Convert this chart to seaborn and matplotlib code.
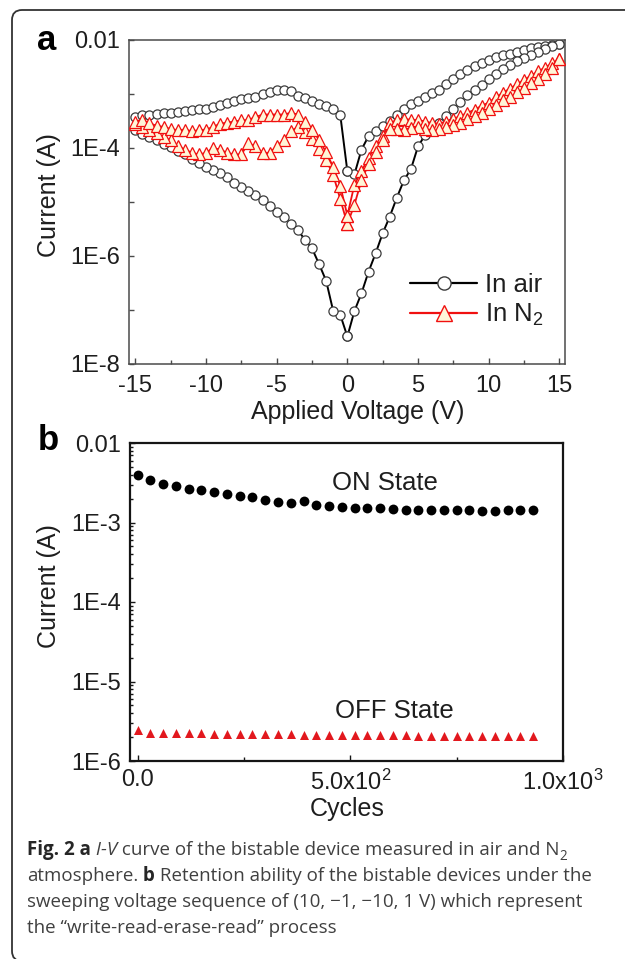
import numpy as np
import pandas as pd
import matplotlib
matplotlib.use("Agg")
import matplotlib.pyplot as plt
import seaborn as sns
from matplotlib.lines import Line2D
from matplotlib.patches import FancyBboxPatch
from matplotlib.transforms import IdentityTransform
from matplotlib.ticker import (FixedLocator, LogLocator, MultipleLocator,
                               NullFormatter)

# ---------------- (a) I-V sweeps, 0.5 V steps ----------------
# currents are stored as log10(I / A)
V_STEPS = [0.0, 0.5, 1.0, 1.5, 2.0, 2.5, 3.0, 3.5, 4.0, 4.5, 5.0, 5.5, 6.0,
           6.5, 7.0, 7.5, 8.0, 8.5, 9.0, 9.5, 10.0, 10.5, 11.0, 11.5, 12.0,
           12.5, 13.0, 13.5, 14.0, 14.5, 15.0]

# in air: 0 -> +15 V
AIR_POS_UP = [-4.43, -4.49, -4.03, -3.78, -3.69, -3.60, -3.50, -3.38, -3.27,
              -3.18, -3.13, -3.06, -2.99, -2.92, -2.81, -2.72, -2.63, -2.56,
              -2.49, -2.43, -2.37, -2.32, -2.28, -2.25, -2.22, -2.18, -2.15,
              -2.13, -2.11, -2.09, -2.08]
# in air: +15 -> 0 V (listed by rising |V|)
AIR_POS_DOWN = [-7.49, -7.02, -6.69, -6.29, -5.95, -5.58, -5.27, -4.92, -4.60,
                -4.39, -3.97, -3.76, -3.66, -3.53, -3.41, -3.27, -3.14, -3.02,
                -2.92, -2.83, -2.73, -2.63, -2.54, -2.46, -2.39, -2.33, -2.27,
                -2.22, -2.17, -2.12, -2.08]
# in air: 0 -> -15 V
AIR_NEG_UP = [-7.49, -7.09, -7.02, -6.46, -6.15, -5.86, -5.70, -5.52, -5.40,
              -5.27, -5.18, -5.07, -4.97, -4.87, -4.79, -4.72, -4.65, -4.54,
              -4.46, -4.40, -4.35, -4.27, -4.20, -4.12, -4.06, -3.98, -3.92,
              -3.86, -3.80, -3.74, -3.66]
# in air: -15 -> 0 V (listed by rising |V|)
AIR_NEG_DOWN = [-4.43, -3.39, -3.27, -3.22, -3.18, -3.13, -3.08, -3.04, -2.95,
                -2.93, -2.93, -2.96, -3.00, -3.05, -3.08, -3.10, -3.13, -3.16,
                -3.21, -3.24, -3.27, -3.28, -3.30, -3.32, -3.33, -3.35, -3.36,
                -3.37, -3.38, -3.39, -3.42]

# in N2
N2_POS_UP = [-5.25, -4.68, -4.43, -4.18, -3.97, -3.78, -3.54, -3.48, -3.46,
             -3.48, -3.48, -3.51, -3.54, -3.55, -3.51, -3.46, -3.41, -3.35,
             -3.29, -3.22, -3.16, -3.06, -2.98, -2.90, -2.82, -2.74, -2.66,
             -2.58, -2.51, -2.43, -2.35]
N2_POS_DOWN = [-5.41, -5.05, -4.60, -4.30, -4.08, -3.85, -3.64, -3.65, -3.66,
               -3.63, -3.61, -3.65, -3.66, -3.65, -3.61, -3.57, -3.53, -3.47,
               -3.41, -3.35, -3.28, -3.20, -3.12, -3.05, -2.97, -2.89, -2.80,
               -2.72, -2.63, -2.52, -2.35]
N2_NEG_UP = [-5.41, -4.95, -4.50, -4.22, -4.02, -3.83, -3.70, -3.62, -3.68,
             -3.85, -3.97, -4.09, -4.09, -3.97, -3.91, -4.12, -4.12, -4.09,
             -4.03, -4.00, -4.09, -4.12, -4.09, -4.03, -3.96, -3.86, -3.80,
             -3.73, -3.67, -3.61, -3.56]
N2_NEG_DOWN = [-5.25, -4.70, -4.35, -4.08, -3.85, -3.66, -3.51, -3.38, -3.35,
               -3.38, -3.38, -3.38, -3.38, -3.43, -3.48, -3.49, -3.51, -3.53,
               -3.55, -3.61, -3.66, -3.67, -3.69, -3.66, -3.67, -3.65, -3.61,
               -3.59, -3.54, -3.48, -3.51]

A_YTICKS = [1e-8, 1e-7, 1e-6, 1e-5, 1e-4, 1e-3, 1e-2]
A_YLABELS = ["1E-8", "", "1E-6", "", "1E-4", "", "0.01"]

# ---------------- (b) retention ----------------
CYCLES = [0, 30, 60, 90, 120, 150, 180, 210, 240, 270, 300, 330, 360, 390,
          420, 450, 480, 510, 540, 570, 600, 630, 660, 690, 720, 750, 780,
          810, 840, 870, 900, 930]
ON_STATE = [4.00e-3, 3.46e-3, 3.05e-3, 2.85e-3, 2.67e-3, 2.54e-3, 2.42e-3,
            2.31e-3, 2.18e-3, 2.07e-3, 1.94e-3, 1.81e-3, 1.76e-3, 1.85e-3,
            1.67e-3, 1.63e-3, 1.57e-3, 1.52e-3, 1.52e-3, 1.51e-3, 1.48e-3,
            1.45e-3, 1.44e-3, 1.44e-3, 1.42e-3, 1.42e-3, 1.42e-3, 1.41e-3,
            1.38e-3, 1.42e-3, 1.44e-3, 1.45e-3]
OFF_STATE = [2.45e-6, 2.27e-6, 2.25e-6, 2.24e-6, 2.23e-6, 2.22e-6, 2.21e-6,
             2.20e-6, 2.19e-6, 2.18e-6, 2.17e-6, 2.17e-6, 2.16e-6, 2.15e-6,
             2.14e-6, 2.14e-6, 2.13e-6, 2.12e-6, 2.12e-6, 2.11e-6, 2.10e-6,
             2.10e-6, 2.09e-6, 2.09e-6, 2.08e-6, 2.08e-6, 2.07e-6, 2.07e-6,
             2.06e-6, 2.06e-6, 2.05e-6, 2.05e-6]
B_YTICKS = [1e-6, 1e-5, 1e-4, 1e-3, 1e-2]
B_YLABELS = ["1E-6", "1E-5", "1E-4", "1E-3", "0.01"]
B_XTICKS = [0, 500, 1000]
B_XLABELS = ["0.0", r"5.0x10$^{2}$", r"1.0x10$^{3}$"]


def sweep(pos_up, pos_down, neg_up, neg_down):
    """Full loop 0 -> +15 -> 0 -> -15 -> 0 V in measurement order."""
    neg = [-v for v in V_STEPS]
    volts = V_STEPS + V_STEPS[::-1] + neg + neg[::-1]
    logi = pos_up + pos_down[::-1] + neg_up + neg_down[::-1]
    return pd.DataFrame({"V": volts, "I": 10.0 ** np.asarray(logi)})


sns.set_style("ticks")
plt.rcParams.update({
    "font.family": ["Liberation Sans", "DejaVu Sans"],
    "mathtext.fontset": "custom",
    "mathtext.rm": "Liberation Sans",
    "mathtext.it": "Liberation Sans:italic",
    "mathtext.bf": "Liberation Sans:bold",
    "axes.unicode_minus": False,
    "xtick.direction": "in",
    "ytick.direction": "in",
})

W, H = 625, 959
fig = plt.figure(figsize=(W / 100, H / 100), dpi=100, facecolor="white")


def rect(left, top, right, bottom):
    return [left / W, 1 - bottom / H, (right - left) / W, (bottom - top) / H]


ax_a = fig.add_axes(rect(129, 40, 565, 364))
ax_b = fig.add_axes(rect(130, 443, 563, 761))

TEXT = "#1e1e1e"
RED = "#f01010"

# ---- panel a ----
ax_a.set_yscale("log")
air = sweep(AIR_POS_UP, AIR_POS_DOWN, AIR_NEG_UP, AIR_NEG_DOWN)
n2 = sweep(N2_POS_UP, N2_POS_DOWN, N2_NEG_UP, N2_NEG_DOWN)
sns.lineplot(data=air, x="V", y="I", sort=False, estimator=None, ax=ax_a,
             color="black", linewidth=1.4, marker="o", markersize=6.6,
             markerfacecolor="white", markeredgecolor="#3c3c3c",
             markeredgewidth=0.9, zorder=2)
sns.lineplot(data=n2, x="V", y="I", sort=False, estimator=None, ax=ax_a,
             color=RED, linewidth=1.3, marker="^", markersize=8.6,
             markerfacecolor="#fff6d8", markeredgecolor=RED,
             markeredgewidth=0.9, zorder=3)
ax_a.set_xlim(-15.45, 15.4)
ax_a.set_ylim(1e-8, 1e-2)
ax_a.xaxis.set_major_locator(MultipleLocator(5))
ax_a.xaxis.set_minor_locator(MultipleLocator(2.5))
ax_a.yaxis.set_major_locator(FixedLocator(A_YTICKS))
ax_a.set_yticklabels(A_YLABELS)
ax_a.yaxis.set_minor_locator(LogLocator(base=10, subs=np.arange(2, 10)))
ax_a.yaxis.set_minor_formatter(NullFormatter())
ax_a.set_xlabel("Applied Voltage (V)", fontsize=18, color=TEXT)
ax_a.set_ylabel("Current (A)", fontsize=18, color=TEXT)

handles = [
    Line2D([], [], color="black", lw=1.6, marker="o", markersize=9.5,
           markerfacecolor="white", markeredgecolor="#3c3c3c", markeredgewidth=1.0),
    Line2D([], [], color=RED, lw=1.6, marker="^", markersize=11.5,
           markerfacecolor="#fff6d8", markeredgecolor=RED, markeredgewidth=1.0),
]
ax_a.legend(handles, ["In air", "In N$_2$"], loc="center left",
            bbox_to_anchor=(0.645, 0.196), frameon=False, fontsize=18.5,
            handlelength=2.6, handletextpad=0.3, labelspacing=0.2,
            borderpad=0, borderaxespad=0, labelcolor=TEXT)

# ---- panel b ----
ax_b.set_yscale("log")
sns.scatterplot(x=CYCLES, y=ON_STATE, ax=ax_b, color="black", marker="o",
                s=50, linewidth=0, zorder=3)
sns.scatterplot(x=CYCLES, y=OFF_STATE, ax=ax_b, color="#e2181e", marker="^",
                s=42, linewidth=0, zorder=3)
ax_b.set_xlim(-18, 1000)
ax_b.set_ylim(1e-6, 1e-2)
ax_b.xaxis.set_major_locator(FixedLocator(B_XTICKS))
ax_b.set_xticklabels(B_XLABELS)
ax_b.xaxis.set_minor_locator(FixedLocator([250, 750]))
ax_b.yaxis.set_major_locator(FixedLocator(B_YTICKS))
ax_b.set_yticklabels(B_YLABELS)
ax_b.yaxis.set_minor_locator(LogLocator(base=10, subs=np.arange(2, 10)))
ax_b.yaxis.set_minor_formatter(NullFormatter())
ax_b.set_xlabel("Cycles", fontsize=18, color=TEXT)
ax_b.set_ylabel("Current (A)", fontsize=18, color=TEXT)
ax_b.text(582, 3.1e-3, "ON State", ha="center", va="center", fontsize=18.5, color=TEXT)
ax_b.text(603, 4.2e-6, "OFF State", ha="center", va="center", fontsize=18.5, color=TEXT)

# ---- shared axis styling ----
for ax, spine_color, spine_w in ((ax_a, "#4a4a4a", 1.1), (ax_b, "#151515", 1.6)):
    for side in ("top", "right", "left", "bottom"):
        ax.spines[side].set_visible(True)
        ax.spines[side].set_color(spine_color)
        ax.spines[side].set_linewidth(spine_w)
    ax.tick_params(axis="both", which="both", top=False, right=False,
                   colors=spine_color, labelcolor=TEXT, width=1.0)
    ax.tick_params(axis="x", which="major", length=4, pad=8, labelsize=17)
    ax.tick_params(axis="x", which="minor", length=2.6)
    ax.tick_params(axis="y", which="major", length=3.6, pad=6.5, labelsize=17)
    ax.tick_params(axis="y", which="minor", length=2.0)
    ax.set_facecolor("white")
ax_b.tick_params(axis="x", which="major", pad=6)

ax_a.xaxis.set_label_coords(0.524, -0.148)
ax_a.xaxis.label.set_verticalalignment("center")
ax_a.yaxis.set_label_coords(-0.183, 0.52)
ax_a.yaxis.label.set_verticalalignment("center")
ax_b.xaxis.set_label_coords(0.501, -0.152)
ax_b.xaxis.label.set_verticalalignment("center")
ax_b.yaxis.set_label_coords(-0.187, 0.55)
ax_b.yaxis.label.set_verticalalignment("center")

# panel letters
fig.text(47 / W, 1 - 50 / H, "a", ha="center", va="baseline", fontsize=25,
         fontweight="bold", color="black")
fig.text(48 / W, 1 - 450 / H, "b", ha="center", va="baseline", fontsize=25,
         fontweight="bold", color="black")

# ---- caption ----
CAPTION_X = 27
CAP_SIZE = 13.5
CAP_COLOR = "#404040"
CAPTION = [
    (855, [("Fig. 2 a", "bold"), (" I-V", "italic"),
           (" curve of the bistable device measured in air and N", "normal"),
           ("2", "sub")]),
    (881, [("atmosphere.", "normal"), (" b", "bold"),
           (" Retention ability of the bistable devices under the", "normal")]),
    (907, [("sweeping voltage sequence of (10, \u22121, \u221210, 1 V) which represent",
            "normal")]),
    (933, [("the \u201cwrite-read-erase-read\u201d process", "normal")]),
]
renderer = fig.canvas.get_renderer()
for y_px, pieces in CAPTION:
    x = CAPTION_X
    for text, style in pieces:
        kw = dict(fontsize=CAP_SIZE, color=CAP_COLOR,
                  family=["Open Sans", "DejaVu Sans"])
        dy = 0.0
        if style == "bold":
            kw.update(fontweight="bold", color="#262626")
        elif style == "italic":
            kw.update(fontstyle="italic")
        elif style == "sub":
            kw.update(fontsize=CAP_SIZE * 0.72)
            dy = CAP_SIZE * 0.28 * 100 / 72
        t = fig.text(x / W, 1 - (y_px + dy) / H, text, ha="left",
                     va="baseline", **kw)
        x += t.get_window_extent(renderer).width

# rounded frame around the figure, open past the right and bottom edges
frame = FancyBboxPatch((12, -2), 700, 951,
                       boxstyle="round,pad=0,rounding_size=10",
                       transform=IdentityTransform(), fill=False,
                       edgecolor="#333333", linewidth=1.3)
fig.patches.append(frame)

fig.savefig("out.png", dpi=100, facecolor="white")
